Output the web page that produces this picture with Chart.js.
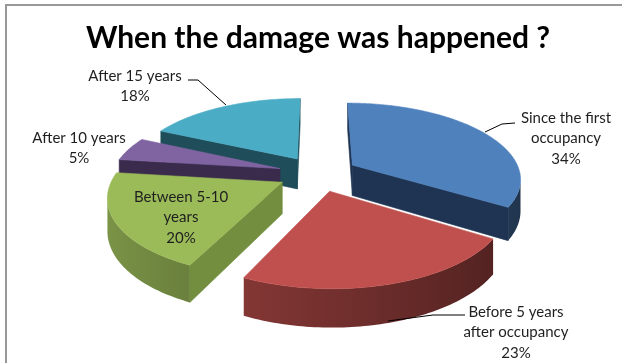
<!DOCTYPE html>
<html>
<head>
<meta charset="utf-8">
<script src="https://cdn.jsdelivr.net/npm/chart.js@4.4.1/dist/chart.umd.min.js"></script>
<style>
  html, body { margin: 0; padding: 0; background: #fff; }
  #wrap { width: 622px; height: 363px; }
</style>
</head>
<body>
<div id="wrap"><canvas id="chart" width="622" height="363"></canvas></div>
<script>
'use strict';

// ── Data ──────────────────────────────────────────────────────
const categories = [
  ['Since the first', 'occupancy'],
  ['Before 5 years', 'after occupancy'],
  ['Between 5-10', 'years'],
  ['After 10 years'],
  ['After 15 years']
];
const shares = [34, 23, 20, 5, 18];

// ── Look ──────────────────────────────────────────────────────
const topColors = ['#4f81bd', '#c0504d', '#9bbb59', '#8064a2', '#4bacc6'];
const cutColors = ['#1f3452', '#4a1e1c', '#728e3e', '#3a2b4d', '#1f4d59'];
const labelSpots = [
  { x: 566, y: 118 }, { x: 516, y: 312 }, { x: 181, y: 197 },
  { x: 79, y: 138 }, { x: 135, y: 76 }
];
const leaders = [
  [[515, 123], [502, 124], [485, 132]],
  [[465, 315], [433, 315], [388, 321]],
  null,
  null,
  [[188, 80], [198, 80], [226, 105]]
];
const TILT = 0.445, PERSP = 0.165, DEPTH = 31;
const FONT = 'Lato, "Open Sans", sans-serif';

function shade(hex, f) {
  const n = parseInt(hex.slice(1), 16);
  const r = Math.round(((n >> 16) & 255) * f);
  const g = Math.round(((n >> 8) & 255) * f);
  const b = Math.round((n & 255) * f);
  return `rgb(${r},${g},${b})`;
}

// ── 3D pie drawn from the arc elements ───────────────────────
const pie3d = {
  id: 'pie3d',
  beforeDraw(chart) {
    const ctx = chart.ctx;
    ctx.save();
    ctx.fillStyle = '#fff';
    ctx.fillRect(0, 0, chart.width, chart.height);
    ctx.strokeStyle = '#999';
    ctx.lineWidth = 2;
    ctx.beginPath();
    ctx.moveTo(6, chart.height);
    ctx.lineTo(6, 5);
    ctx.lineTo(chart.width, 5);
    ctx.stroke();
    ctx.restore();
  },
  beforeDatasetsDraw(chart) {
    const ctx = chart.ctx;
    const arcs = chart.getDatasetMeta(0).data;
    const R = arcs[0].outerRadius;
    const cx = arcs[0].x, cy = arcs[0].y;
    const cam = R / PERSP;
    const proj = (px, py, z) => {
      const s = 1 / (1 - PERSP * py / R);
      return [cx + px * s, cy + (py * TILT + z) * s];
    };
    const slices = arcs.map((arc, i) => {
      const mid = (arc.startAngle + arc.endAngle) / 2;
      const off = arc.options.offset || 0;
      return { i, a0: arc.startAngle, a1: arc.endAngle, ox: off * Math.cos(mid), oy: off * Math.sin(mid) };
    });
    slices.sort((p, q) => proj(p.ox, p.oy, 0)[1] - proj(q.ox, q.oy, 0)[1]);

    const path = pts => {
      ctx.beginPath();
      pts.forEach((p, k) => k ? ctx.lineTo(p[0], p[1]) : ctx.moveTo(p[0], p[1]));
      ctx.closePath();
    };
    const poly = (pts, color) => {
      path(pts);
      ctx.fillStyle = color;
      ctx.strokeStyle = color;
      ctx.lineWidth = 0.6;
      ctx.fill();
      ctx.stroke();
    };

    ctx.save();
    ctx.lineJoin = 'round';
    for (const sl of slices) {
      const pt = (a, z) => proj(sl.ox + R * Math.cos(a), sl.oy + R * Math.sin(a), z);
      const apex = z => proj(sl.ox, sl.oy, z);
      const top = topColors[sl.i];

      // flat cut faces
      const cuts = [
        [sl.a0, Math.sin(sl.a0), -Math.cos(sl.a0)],
        [sl.a1, -Math.sin(sl.a1), Math.cos(sl.a1)]
      ];
      for (const [a, nx, ny] of cuts) {
        if (nx * (0 - sl.ox) + ny * (cam - sl.oy) <= 0) continue;
        poly([apex(0), pt(a, 0), pt(a, DEPTH), apex(DEPTH)], cutColors[sl.i]);
      }

      // curved outer wall, one shaded band per visible run
      const steps = Math.max(8, Math.ceil((sl.a1 - sl.a0) / 0.02));
      const angs = [];
      for (let k = 0; k <= steps; k++) angs.push(sl.a0 + (sl.a1 - sl.a0) * k / steps);
      const seen = angs.map(b => {
        const rx = sl.ox + R * Math.cos(b), ry = sl.oy + R * Math.sin(b);
        return Math.cos(b) * (0 - rx) + Math.sin(b) * (cam - ry) > 0;
      });
      let run = [];
      const flush = () => {
        if (run.length > 1) {
          const tops = run.map(b => pt(b, 0));
          const bots = run.map(b => pt(b, DEPTH)).reverse();
          const xs = tops.map(p => p[0]);
          const xmin = Math.min(...xs), xmax = Math.max(...xs);
          const grad = ctx.createLinearGradient(xmin, 0, xmax + 0.01, 0);
          run.map((b, k) => [(xs[k] - xmin) / (xmax - xmin + 0.01), shade(top, 0.6 - 0.2 * Math.cos(b))])
            .sort((p, q) => p[0] - q[0])
            .forEach(([o, c]) => grad.addColorStop(o, c));
          path(tops.concat(bots));
          ctx.fillStyle = grad;
          ctx.fill();
        }
        run = [];
      };
      angs.forEach((b, k) => { if (seen[k]) run.push(b); else flush(); });
      flush();

      // top face
      poly([apex(0)].concat(angs.map(b => pt(b, 0))), top);
    }
    ctx.restore();
    return false;
  },
  afterDraw(chart) {
    const ctx = chart.ctx;
    ctx.save();
    ctx.strokeStyle = '#000';
    ctx.lineWidth = 1;
    leaders.forEach(line => {
      if (!line) return;
      ctx.beginPath();
      line.forEach((p, k) => k ? ctx.lineTo(p[0], p[1]) : ctx.moveTo(p[0], p[1]));
      ctx.stroke();
    });
    ctx.fillStyle = '#1f1f1f';
    ctx.font = `15px ${FONT}`;
    ctx.textAlign = 'center';
    ctx.textBaseline = 'middle';
    chart.data.labels.forEach((lines, i) => {
      const spot = labelSpots[i];
      const all = lines.concat([shares[i] + '%']);
      all.forEach((t, k) => ctx.fillText(t, spot.x, spot.y + k * 20.5));
    });
    ctx.restore();
  }
};

new Chart(document.getElementById('chart'), {
  type: 'pie',
  data: {
    labels: categories,
    datasets: [{
      data: shares,
      backgroundColor: topColors,
      offset: 40,
      radius: 168,
      borderWidth: 0
    }]
  },
  options: {
    responsive: false,
    animation: false,
    layout: { padding: { left: 20, right: 6, top: 0, bottom: 72 } },
    plugins: {
      legend: { display: false },
      tooltip: { enabled: false },
      title: {
        display: true,
        text: 'When the damage was happened ?',
        color: '#000',
        font: { family: FONT, size: 30, weight: 'bold' },
        padding: { top: 20, bottom: 0 }
      }
    }
  },
  plugins: [pie3d]
});
</script>
</body>
</html>
